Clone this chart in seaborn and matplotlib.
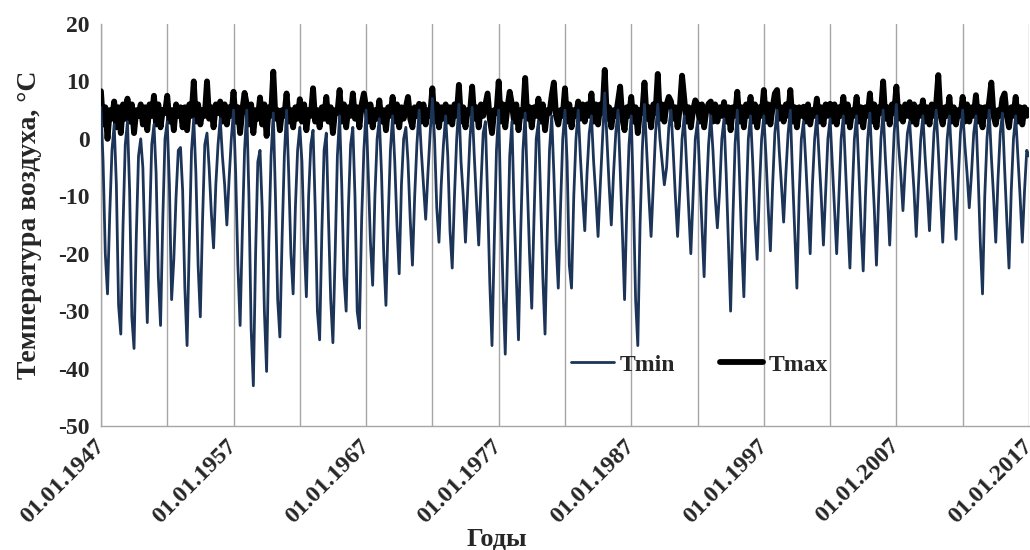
import pandas as pd
import matplotlib
matplotlib.use("Agg")
import matplotlib.pyplot as plt
import seaborn as sns

# Air temperature, bimonthly samples (Jan, Mar, May, Jul, Sep, Nov) for 1947-2016, then Jan 2017
tmin = [
    5.5, -4, -20, -27, -13, -2,        # 1947
    2.5, -8, -29, -34, -15, -1,        # 1948
    3, -9, -31, -36.5, -17, -3,        # 1949
    0, -5, -20, -32, -15, -1,          # 1950
    2.5, -6, -24, -32.5, -14, 0,       # 1951
    3, -8, -28, -21, -10, -2,          # 1952
    -1.5, -9, -26, -36, -18, -2,       # 1953
    3.5, -6, -22, -31, -14, -1,        # 1954
    1, -5, -13, -19, -8, -1,           # 1955
    3.5, -3, -8, -15, -7, 0,           # 1956
    5, -6, -22, -32.5, -16, -2,        # 1957
    5, -10, -33, -43, -20, -4,         # 1958
    -2, -12, -30, -40.5, -18, -3,      # 1959
    4.5, -10, -28, -34.5, -17, -3,     # 1960
    5, -6, -20, -27, -12, -2,          # 1961
    2, -4, -18, -27.5, -10, -1,        # 1962
    1.5, -12, -30, -35, -16, -2,       # 1963
    1, -14, -28, -35.5, -20, -3,       # 1964
    4, -8, -24, -30, -12, -1,          # 1965
    2, -10, -30, -33, -14, -2,         # 1966
    5, -6, -18, -25.5, -10, 0,         # 1967
    3.5, -6, -20, -29, -14, -2,        # 1968
    4, -4, -15, -23.5, -8, 0,          # 1969
    2, -4, -14, -22, -10, -1,          # 1970
    5, -2, -8, -14, -6, 1,             # 1971
    7, 0, -12, -18, -8, -1,            # 1972
    4, -3, -16, -22.5, -10, 0,         # 1973
    6, -4, -10, -18, -9, 0,            # 1974
    5.5, -3, -11, -18.5, -8, 1,        # 1975
    3, -10, -25, -36, -18, -2,         # 1976
    5, -12, -26, -37.5, -20, -3,       # 1977
    3, -12, -24, -35, -16, -2,         # 1978
    4.5, -8, -20, -29.5, -14, 0,       # 1979
    3, -10, -24, -34, -16, -2,         # 1980
    4, -6, -18, -26, -12, 0,           # 1981
    5, -4, -22, -26, -10, 0,           # 1982
    5, -3, -10, -16, -6, 1,            # 1983
    4, -4, -10, -17, -8, 0,            # 1984
    8, 0, -8, -15, -6, 1,              # 1985
    5, -5, -16, -28, -12, -1,          # 1986
    4, -10, -28, -36, -15, -2,         # 1987
    6, -2, -10, -17, -8, 1,            # 1988
    6, 0, -4, -8, -5, 2,               # 1989
    5, -2, -10, -17, -9, 0,            # 1990
    4, -4, -12, -20, -10, 0,           # 1991
    3, -6, -15, -24, -10, -1,          # 1992
    4, -2, -10, -15.5, -9, 0,          # 1993
    3.5, -6, -18, -30, -14, -1,        # 1994
    5, -6, -18, -27.5, -12, 0,         # 1995
    4, -4, -14, -21, -9, 0,            # 1996
    4, -3, -12, -19.5, -8, 1,          # 1997
    5, -2, -8, -14.5, -6, 1,           # 1998
    5, -6, -16, -26, -10, 0,           # 1999
    3, -4, -12, -20, -8, 0,            # 2000
    4, -3, -10, -18.5, -9, 0,          # 2001
    3.5, -4, -12, -20, -10, 0,         # 2002
    4, -5, -14, -22.5, -10, 0,         # 2003
    4, -5, -15, -23, -10, 0,           # 2004
    4.5, -4, -12, -22, -10, 0,         # 2005
    5, -3, -10, -18.5, -8, 1,          # 2006
    6, -1, -6, -12.5, -5, 1,           # 2007
    3, -3, -9, -17, -8, 0,             # 2008
    4, -3, -9, -16, -7, 1,             # 2009
    5, -2, -10, -18, -8, 0,            # 2010
    4, -3, -10, -17.5, -7, 1,          # 2011
    5, -1, -6, -12, -6, 1,             # 2012
    4, -6, -18, -27, -10, 0,           # 2013
    5, -3, -10, -18, -7, 1,            # 2014
    4.5, -5, -14, -22.5, -9, 0,        # 2015
    4, -3, -10, -18, -9, -2,           # 2016
    -3,                                # 2017
]

tmax = [
    8.3, 2.5, 5.5, 0, 5, 3.5,          # 1947
    6.5, 2, 5.5, 1, 6, 3.5,            # 1948
    7, 3, 6, 1, 5, 4,                  # 1949
    6, 2.5, 5.5, 1.5, 6, 4,            # 1950
    7.5, 2.5, 6, 2, 5, 4.5,            # 1951
    7.5, 3, 5, 1.5, 6, 4,              # 1952
    5.5, 2, 5.5, 1.5, 6, 4,            # 1953
    10, 3, 6, 2.5, 5, 4,               # 1954
    10, 3.5, 5.5, 2, 6, 4.5,           # 1955
    6.5, 3, 6, 2.5, 5.5, 4,            # 1956
    8.2, 3, 5.5, 1, 5, 8,              # 1957
    6, 2.5, 6, 1, 5, 3.5,              # 1958
    7.2, 2.5, 6, 0.5, 5.5, 4,          # 1959
    11.7, 3.5, 5, 1.5, 5, 4,           # 1960
    7.9, 3, 5, 2, 5.5, 3.5,            # 1961
    6.9, 3, 6, 1.5, 5, 4,              # 1962
    8.8, 3, 5, 2, 5.5, 3.5,            # 1963
    7.3, 3, 5.5, 1, 5, 4.5,            # 1964
    8.5, 3, 6, 2, 5.5, 4,              # 1965
    7.9, 3.5, 5.5, 2, 6, 7.9,          # 1966
    5.5, 3, 6, 2, 5, 3.5,              # 1967
    6.7, 3, 5, 1.5, 5.5, 4,            # 1968
    7.3, 3, 6, 2, 5.5, 3.5,            # 1969
    5.5, 7.3, 3.5, 2, 5.5, 4,          # 1970
    6.1, 3, 6, 2.5, 5, 4,              # 1971
    8.8, 3, 6, 2, 5.5, 3.5,            # 1972
    6, 3, 5.5, 2.5, 6, 4,              # 1973
    9.4, 3, 5.5, 2, 5, 4.5,            # 1974
    9.1, 3.5, 5.5, 2, 6, 4,            # 1975
    6, 7.9, 3.5, 1, 5, 4.5,            # 1976
    10, 3, 6, 2, 5.5, 8.2,             # 1977
    6, 3, 6, 1.5, 5, 4,                # 1978
    10.6, 3.5, 5.5, 2, 5.5, 4,         # 1979
    7, 3, 6, 1.5, 5, 4.5,              # 1980
    7.5, 9.8, 4, 2.5, 5, 4,            # 1981
    8.8, 3, 6, 2, 5, 4,                # 1982
    6.5, 3.5, 6, 3, 6, 4,              # 1983
    7.9, 3, 6, 2.5, 6, 4.5,            # 1984
    12, 3.5, 5.5, 2, 5, 4,             # 1985
    6.5, 9.1, 3.5, 1.5, 5.5, 4,        # 1986
    7.3, 3, 5.5, 1, 5, 4.5,            # 1987
    9.8, 3.5, 5.5, 2, 6, 4.5,          # 1988
    11.3, 3.5, 6, 3, 6, 7.3,           # 1989
    6.5, 3.5, 5.5, 2, 5.5, 11,         # 1990
    7, 3, 5.5, 2, 5, 6.7,              # 1991
    6, 3, 6, 2, 5, 6.1,                # 1992
    6.5, 3, 6, 3, 5.5, 4,              # 1993
    6.4, 3, 5.5, 1.5, 5.5, 4,          # 1994
    8.2, 3, 5.5, 2, 6, 4,              # 1995
    7.3, 3, 6, 2, 5.5, 4,              # 1996
    8.5, 3, 6, 2.5, 5.5, 7.9,          # 1997
    8.5, 3.5, 5.5, 3, 6, 4,            # 1998
    8.5, 3, 5.5, 2, 5.5, 4,            # 1999
    5.6, 3, 6, 2.5, 5, 4,              # 2000
    7, 3, 5.5, 2.5, 6, 4,              # 2001
    6.1, 3, 6, 2.5, 5.5, 4,            # 2002
    7.3, 3, 6, 2, 5, 4,                # 2003
    7.3, 3, 5.5, 2, 5.5, 4,            # 2004
    7.9, 3, 6, 2, 5.5, 4.5,            # 2005
    10, 3.5, 5.5, 2.5, 6, 4.5,         # 2006
    9.1, 3.5, 5.5, 3, 6, 4,            # 2007
    6.4, 3, 6, 2.5, 5.5, 4,            # 2008
    6.7, 3, 5.5, 2.5, 6, 4,            # 2009
    6, 11.1, 4, 2.5, 5.5, 4,           # 2010
    7.3, 3, 5.5, 2.5, 5, 4,            # 2011
    7.3, 3, 6, 3, 5.5, 4,              # 2012
    7.6, 3, 5.5, 2, 5.5, 4,            # 2013
    6.5, 9.8, 4, 2.5, 5, 4,            # 2014
    7, 7.9, 4, 2, 5.5, 4,              # 2015
    7.3, 3, 5.5, 2.5, 5.5, 4,          # 2016
    5,                                 # 2017
]

label_years = [1947, 1957, 1967, 1977, 1987, 1997, 2007, 2017]
grid_years = [1952, 1962, 1972, 1982, 1992, 2002, 2012]
y_ticks = [-50, -40, -30, -20, -10, 0, 10, 20]
series_names = ["Tmin", "Tmax"]
y_title = "Температура воздуха, °С"
x_title = "Годы"

dates = pd.date_range("1947-01-01", periods=len(tmin), freq="2MS")
df = pd.DataFrame({"date": dates, "Tmin": tmin, "Tmax": tmax})

sns.set_theme(style="white")
plt.rcParams["font.family"] = ["Liberation Serif", "DejaVu Serif"]
plt.rcParams["font.weight"] = "bold"

grid_col = "#a6a6a6"
tmin_col = "#1c3458"

fig = plt.figure(figsize=(10.3, 5.5), dpi=100)
ax = fig.add_axes([0.098, 0.2255, 0.901, 0.7309])

sns.lineplot(data=df, x="date", y="Tmax", ax=ax, color="black", lw=4.2,
             label=series_names[1], zorder=3)
sns.lineplot(data=df, x="date", y="Tmin", ax=ax, color=tmin_col, lw=2.0,
             label=series_names[0], zorder=4)

ax.set_xlim(pd.Timestamp("1947-01-01"), pd.Timestamp("2017-01-01"))
ax.set_ylim(-50, 20)
ax.set_yticks(y_ticks)
ax.set_yticklabels([str(v) for v in y_ticks], fontsize=17, fontweight="bold")

ax.set_xticks([pd.Timestamp(f"{y}-01-01") for y in label_years])
ax.set_xticklabels([f"01.01.{y}" for y in label_years], rotation=45,
                   ha="right", va="center", rotation_mode="anchor",
                   fontsize=17.5, fontweight="bold")
ax.set_xticks([pd.Timestamp(f"{y}-01-01") for y in grid_years], minor=True)

ax.grid(False)
ax.grid(axis="x", which="both", color=grid_col, lw=1.0, zorder=0)
ax.tick_params(axis="x", which="major", length=6, width=1, color=grid_col,
               direction="out", pad=6)
ax.tick_params(axis="x", which="minor", length=0)
ax.tick_params(axis="y", length=5, width=1, color=grid_col, direction="out", pad=3)

for side in ["top", "right"]:
    ax.spines[side].set_visible(False)
for side in ["left", "bottom"]:
    ax.spines[side].set_color(grid_col)
    ax.spines[side].set_linewidth(1.0)

ax.set_ylabel(y_title, fontsize=20, fontweight="bold", labelpad=12)
ax.set_xlabel(x_title, fontsize=19, fontweight="bold")
ax.xaxis.set_label_coords(0.427, -0.252)

handles, labels = ax.get_legend_handles_labels()
order = [labels.index(n) for n in series_names]
ax.legend([handles[i] for i in order], [labels[i] for i in order],
          ncol=2, frameon=False, loc="center", bbox_to_anchor=(0.645, 0.152),
          handlelength=1.8, handletextpad=0.25, columnspacing=1.9,
          prop={"size": 17, "weight": "bold"})

fig.savefig("out.png", dpi=100)
